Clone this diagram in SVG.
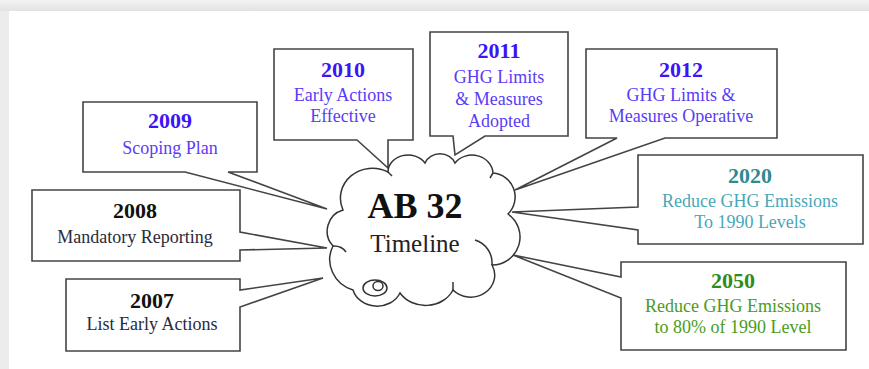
<svg xmlns="http://www.w3.org/2000/svg" width="869" height="369" viewBox="0 0 869 369">
<defs>
<linearGradient id="topg" x1="0" y1="0" x2="0" y2="1"><stop offset="0" stop-color="#f4f4f4"/><stop offset="1" stop-color="#e2e2e2"/></linearGradient>
</defs>
<style>
.box{fill:#fff;stroke:#444;stroke-width:1.6;stroke-linejoin:miter}
.cloud{fill:#fff;stroke:#333;stroke-width:1.5}
.line{fill:none;stroke:#333;stroke-width:1.5}
text{font-family:"Liberation Serif","Times New Roman",serif;text-anchor:middle}
.yr{font-size:22px;font-weight:bold}
.ds{font-size:18px}
.blue .yr{fill:#3c14f5}
.blue .ds{fill:#5a3cf5}
.black .yr{fill:#111}
.black .ds{fill:#2a2a3a}
.teal .yr{fill:#2e8b8f}
.teal .ds{fill:#48a8b8}
.green .yr{fill:#2e8b1e}
.green .ds{fill:#4a9c1c}
</style>
<rect x="0" y="0" width="869" height="369" fill="#ececec"/>
<rect x="0" y="0" width="869" height="11" fill="url(#topg)"/>
<rect x="9" y="11" width="860" height="358" fill="#fff"/>

<g id="connectors">
</g>

<g id="n2009" class="blue">
<path class="box" d="M83,102 H257 V172 H228 L327,209 L185,172 H83 Z"/>
<text class="yr" x="170" y="128">2009</text>
<text class="ds" x="170" y="154">Scoping Plan</text>
</g>

<g id="n2008" class="black">
<path class="box" d="M32,190 H240 V232 L327,248 L240,250 V261 H32 Z"/>
<text class="yr" x="135" y="218">2008</text>
<text class="ds" x="135" y="243">Mandatory Reporting</text>
</g>

<g id="n2007" class="black">
<path class="box" d="M66,279 H240 V290 L323,278 L240,307 V351 H66 Z"/>
<text class="yr" x="152" y="308">2007</text>
<text class="ds" x="152" y="330">List Early Actions</text>
</g>

<g id="n2010" class="blue">
<path class="box" d="M274,49 H413 V140 H388 L388,168 L357,140 H274 Z"/>
<text class="yr" x="343" y="77">2010</text>
<text class="ds" x="343" y="101">Early Actions</text>
<text class="ds" x="343" y="122">Effective</text>
</g>

<g id="n2011" class="blue">
<path class="box" d="M430,32 H568 V136 H485 L455,155 L453,136 H430 Z"/>
<text class="yr" x="499" y="58">2011</text>
<text class="ds" x="499" y="83">GHG Limits</text>
<text class="ds" x="499" y="105">&amp; Measures</text>
<text class="ds" x="499" y="127">Adopted</text>
</g>

<g id="n2012" class="blue">
<path class="box" d="M586,49 H777 V138 H665 L515,190 L617,138 H586 Z"/>
<text class="yr" x="681" y="77">2012</text>
<text class="ds" x="681" y="101">GHG Limits &amp;</text>
<text class="ds" x="681" y="122">Measures Operative</text>
</g>

<g id="n2020" class="teal">
<path class="box" d="M638,155 H863 V244 H638 V230 L512,212 L638,207 Z"/>
<text class="yr" x="750" y="183">2020</text>
<text class="ds" x="750" y="207">Reduce GHG Emissions</text>
<text class="ds" x="750" y="228">To 1990 Levels</text>
</g>

<g id="n2050" class="green">
<path class="box" d="M621,262 H846 V350 H621 V298 L513,255 L621,277 Z"/>
<text class="yr" x="733" y="288">2050</text>
<text class="ds" x="733" y="312">Reduce GHG Emissions</text>
<text class="ds" x="733" y="333">to 80% of 1990 Level</text>
</g>

<g id="cloud">
<path class="cloud" d="M343,210 A32,30 0 0 1 388,172 A20,17 0 0 1 425,163 A16,14 0 0 1 455,163 A21,19 0 0 1 493,173 A24,24 0 0 1 508,214 A28,28 0 0 1 492,265 A24,22 0 0 1 453,290 A30,26 0 0 1 400,293 A25,22 0 0 1 353,290 A34,32 0 0 1 333,246 A22,22 0 0 1 343,210 Z"/>
<path class="line" d="M475,240 A24,24 0 0 1 492,265"/>
<path class="line" d="M453,282 L453,290"/>
<path class="line" d="M333,246 A14,12 0 0 1 346,252"/>
<path class="line" d="M388,172 L392,176"/>
<path class="line" d="M493,173 L490,178"/>
<ellipse class="line" cx="375" cy="288" rx="12" ry="8"/>
<ellipse class="line" cx="378" cy="286" rx="5" ry="4.5"/>
<text x="415" y="218" style="font-size:36px;font-weight:bold;fill:#111">AB 32</text>
<text x="415" y="252" style="font-size:25px;fill:#222">Timeline</text>
</g>
</svg>
